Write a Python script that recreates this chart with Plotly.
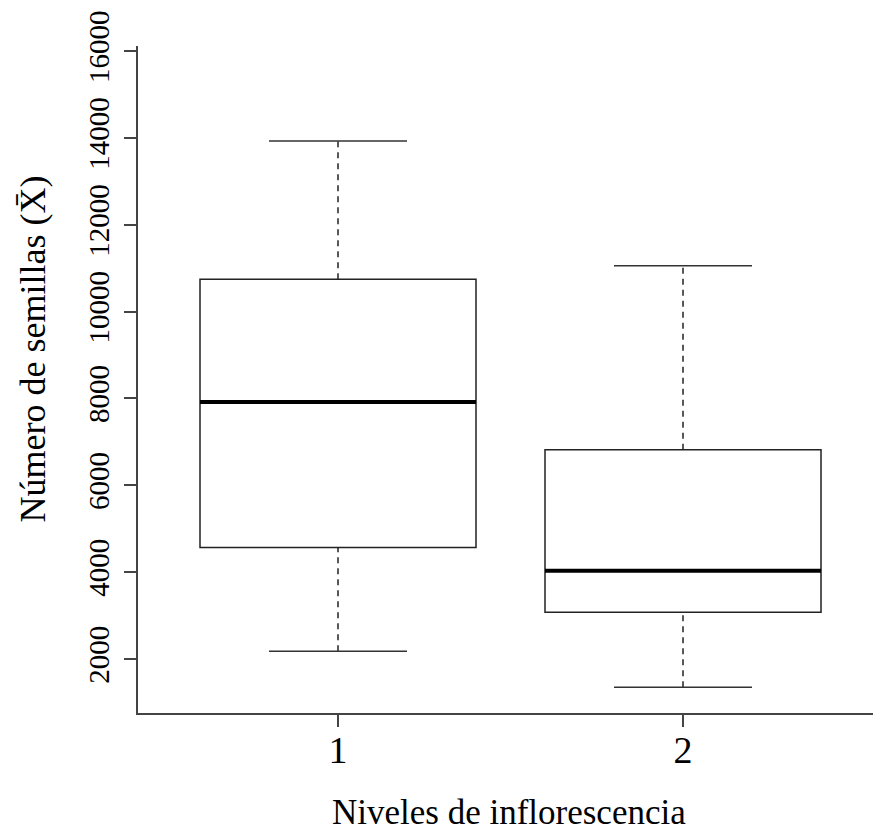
import plotly.graph_objects as go

# Data
levels = [1, 2]
level_labels = ["1", "2"]
lower_whisker = [2180, 1350]
q1 = [4565, 3075]
median = [7920, 4035]
q3 = [10745, 6820]
upper_whisker = [13930, 11055]
y_ticks = [2000, 4000, 6000, 8000, 10000, 12000, 14000, 16000]
y_tick_labels = [str(v) for v in y_ticks]

FONT = "Liberation Serif"
BOX_W = 0.8
CAP_W = 0.4

fig = go.Figure()

fig.add_trace(go.Box(
    x=levels, q1=q1, median=median, q3=q3,
    lowerfence=q1, upperfence=q3,
    width=BOX_W, whiskerwidth=0,
    line=dict(color="#222222", width=1.5),
    fillcolor="white", boxpoints=False, showlegend=False, hoverinfo="skip",
))

# whiskers (dashed)
wx, wy = [], []
for x, lo, a, b, hi in zip(levels, lower_whisker, q1, q3, upper_whisker):
    wx += [x, x, None, x, x, None]
    wy += [b, hi, None, lo, a, None]
fig.add_trace(go.Scatter(x=wx, y=wy, mode="lines", showlegend=False, hoverinfo="skip",
                         line=dict(color="#222222", width=1.5, dash="6px,5px")))

# caps
cx, cy = [], []
for x, lo, hi in zip(levels, lower_whisker, upper_whisker):
    cx += [x - CAP_W / 2, x + CAP_W / 2, None, x - CAP_W / 2, x + CAP_W / 2, None]
    cy += [hi, hi, None, lo, lo, None]
fig.add_trace(go.Scatter(x=cx, y=cy, mode="lines", showlegend=False, hoverinfo="skip",
                         line=dict(color="#333333", width=1.5)))

# medians (thick)
mx, my = [], []
for x, m in zip(levels, median):
    mx += [x - BOX_W / 2, x + BOX_W / 2, None]
    my += [m, m, None]
fig.add_trace(go.Scatter(x=mx, y=my, mode="lines", showlegend=False, hoverinfo="skip",
                         line=dict(color="black", width=4)))

fig.update_layout(
    width=873, height=834,
    margin=dict(l=138, r=0, t=46, b=121),
    paper_bgcolor="white", plot_bgcolor="white",
    font=dict(family=FONT, color="black"),
    xaxis=dict(
        range=[0.4203, 2.5507], tickvals=levels, ticktext=level_labels,
        showline=True, linecolor="#444444", linewidth=2,
        ticks="outside", ticklen=12, tickwidth=1.5, tickcolor="#444444",
        tickfont=dict(family=FONT, size=38, color="black"),
        showgrid=False, zeroline=False, ticklabelstandoff=-10,
    ),
    yaxis=dict(
        range=[756.5, 16116], tickvals=y_ticks, ticktext=y_tick_labels,
        showline=True, linecolor="#444444", linewidth=2,
        ticks="outside", ticklen=12, tickwidth=1.5, tickcolor="#444444",
        tickfont=dict(family=FONT, size=29, color="black"), tickangle=-90,
        showgrid=False, zeroline=False, ticklabelstandoff=3,
    ),
    annotations=[
        dict(text="Número de semillas (X\u0304)", xref="paper", yref="paper",
             x=0, y=0.545, xanchor="center", yanchor="middle", xshift=-105,
             textangle=-90, showarrow=False, font=dict(family=FONT, size=36, color="black")),
        dict(text="Niveles de inflorescencia", xref="paper", yref="paper",
             x=0.5048, y=0, xanchor="center", yanchor="bottom", yshift=-120,
             showarrow=False, borderpad=0, font=dict(family=FONT, size=35, color="black")),
    ],
)

fig.write_html(
    "out.html",
    config={"displayModeBar": False},
    post_script="document.body.style.margin='0';document.body.style.overflow='hidden';",
)
